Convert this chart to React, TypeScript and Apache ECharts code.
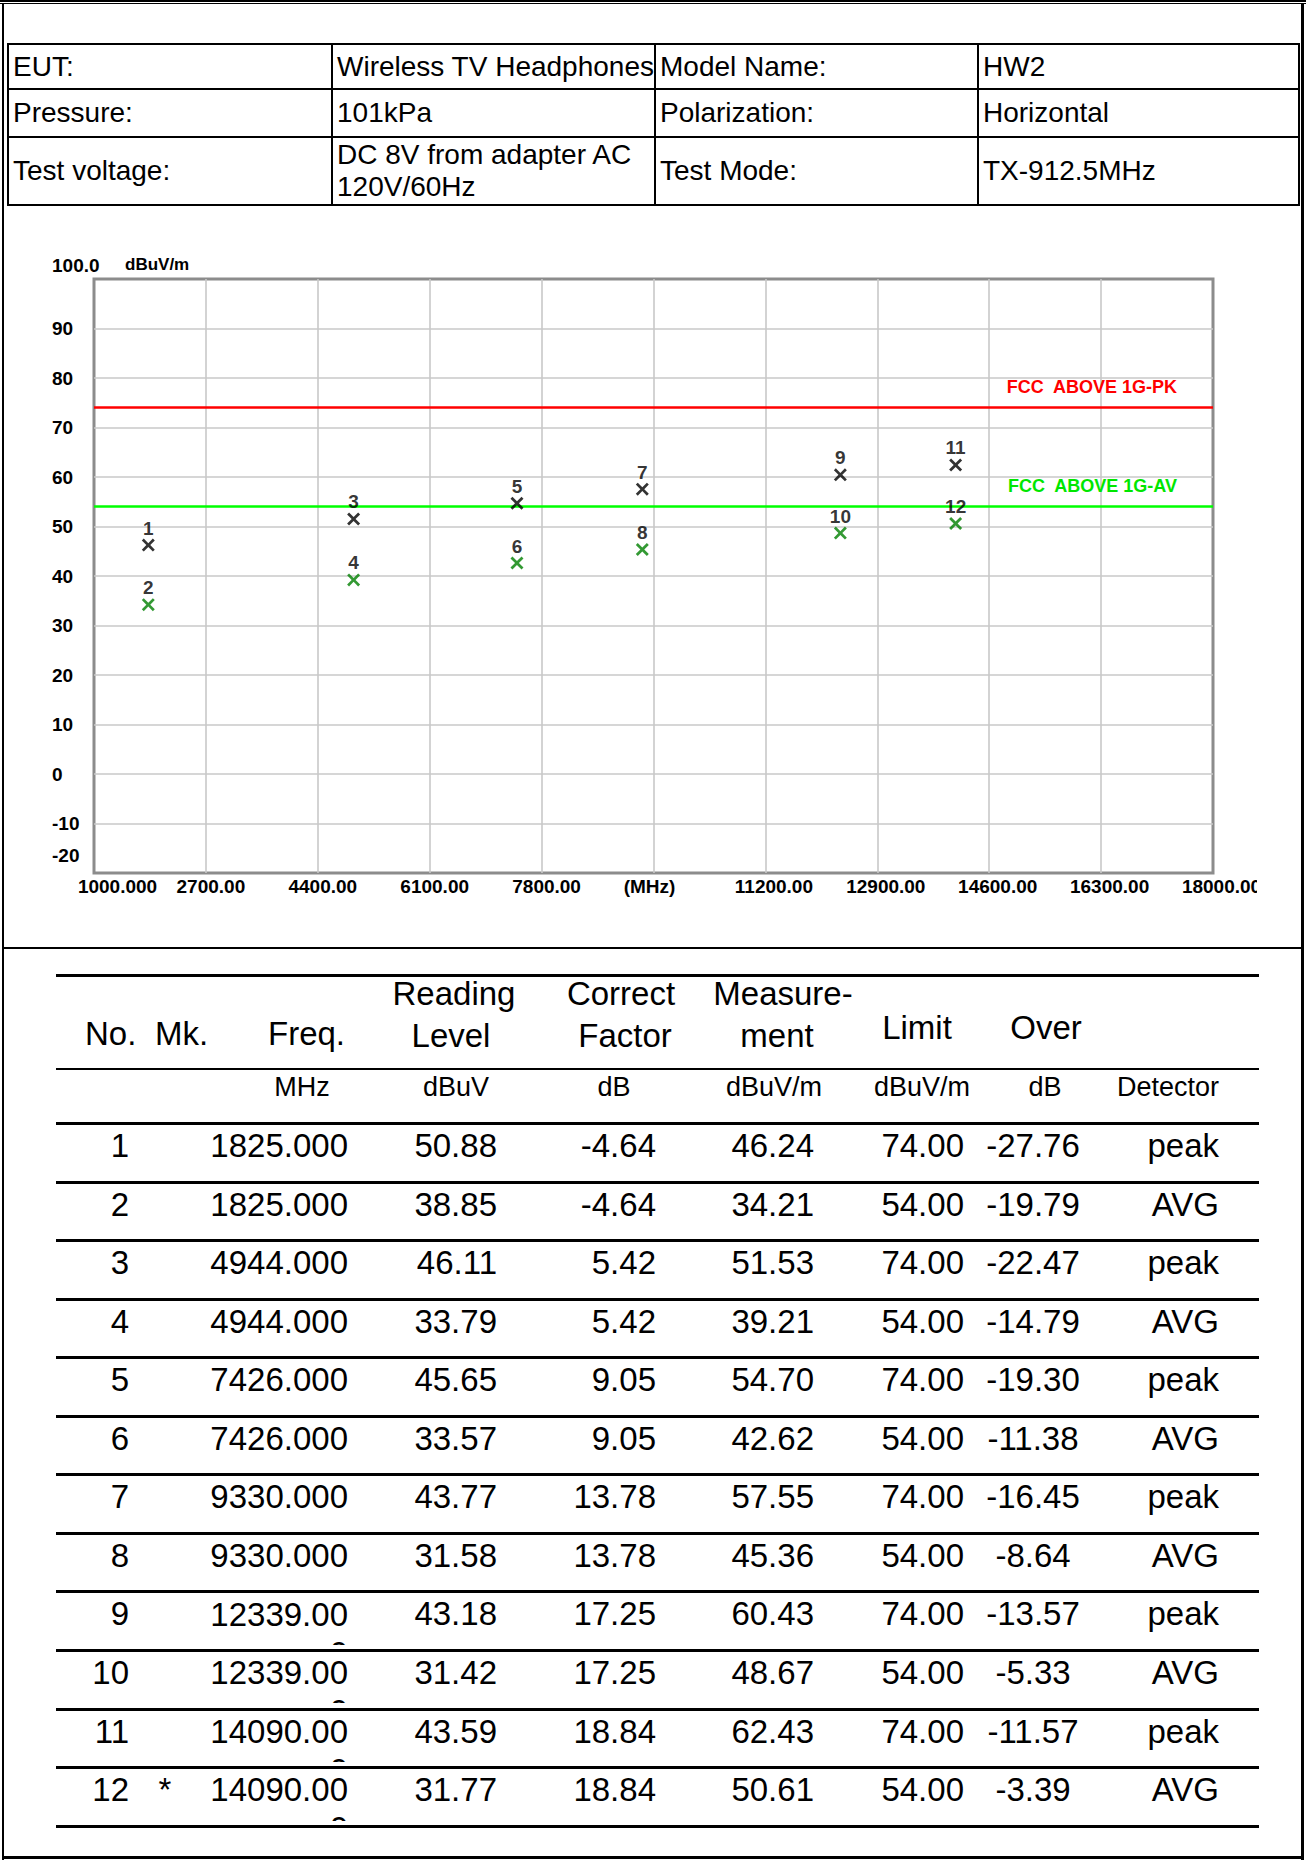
import React, { useEffect, useRef } from "react";
import * as echarts from "echarts";

// ---- measurement results (one entry per marker) ----
const markerNo = [1, 2, 3, 4, 5, 6, 7, 8, 9, 10, 11, 12];
const markFlag = ["", "", "", "", "", "", "", "", "", "", "", "*"];
const freqMHz = [1825, 1825, 4944, 4944, 7426, 7426, 9330, 9330, 12339, 12339, 14090, 14090];
const readingLevel = [50.88, 38.85, 46.11, 33.79, 45.65, 33.57, 43.77, 31.58, 43.18, 31.42, 43.59, 31.77];
const correctFactor = [-4.64, -4.64, 5.42, 5.42, 9.05, 9.05, 13.78, 13.78, 17.25, 17.25, 18.84, 18.84];
const measurement = [46.24, 34.21, 51.53, 39.21, 54.7, 42.62, 57.55, 45.36, 60.43, 48.67, 62.43, 50.61];
const limitLevel = [74, 54, 74, 54, 74, 54, 74, 54, 74, 54, 74, 54];
const overMargin = [-27.76, -19.79, -22.47, -14.79, -19.3, -11.38, -16.45, -8.64, -13.57, -5.33, -11.57, -3.39];
const detector = ["peak", "AVG", "peak", "AVG", "peak", "AVG", "peak", "AVG", "peak", "AVG", "peak", "AVG"];

// ---- limit lines ----
const limitPK = 74;
const limitAV = 54;
const limitPKName = "FCC  ABOVE 1G-PK";
const limitAVName = "FCC  ABOVE 1G-AV";

// ---- axes ----
const X_START = 1000;
const X_END = 18000;
const X_STEP = 1700;
const xTickLabels = ["1000.000", "2700.00", "4400.00", "6100.00", "7800.00", "(MHz)", "11200.00", "12900.00", "14600.00", "16300.00", "18000.00"];
const Y_MIN = -20;
const Y_MAX = 100;
const Y_STEP = 10;
const yTickLabels = ["-20", "-10", "0", "10", "20", "30", "40", "50", "60", "70", "80", "90", "100.0"];
const yUnit = "dBuV/m";

// ---- header information ----
const infoRows = [
  ["EUT:", "Wireless TV Headphones", "Model Name:", "HW2"],
  ["Pressure:", "101kPa", "Polarization:", "Horizontal"],
  ["Test voltage:", "DC 8V from adapter AC\n120V/60Hz", "Test Mode:", "TX-912.5MHz"],
];

const LS = "'Liberation Sans', Arial, Helvetica, sans-serif";

// cross-shaped marker
const X_MARK = "path://M0,1.5L1.5,0L5,3.5L8.5,0L10,1.5L6.5,5L10,8.5L8.5,10L5,6.5L1.5,10L0,8.5L3.5,5Z";

function Bar({ l, t, w, h }: { l: number; t: number; w: number; h: number }) {
  return <div style={{ position: "absolute", left: l, top: t, width: w, height: h, background: "#000" }} />;
}

function Txt({ x, base, size, align, children }: { x: number; base: number; size: number; align: "left" | "center" | "right"; children: React.ReactNode }) {
  const tx = align === "center" ? "translateX(-50%)" : align === "right" ? "translateX(-100%)" : "none";
  return (
    <div
      style={{
        position: "absolute",
        left: x,
        top: base - 0.8465 * size,
        fontFamily: LS,
        fontSize: size,
        lineHeight: `${size}px`,
        whiteSpace: "pre",
        transform: tx,
        color: "#000",
      }}
    >
      {children}
    </div>
  );
}

function Chart() {
  const ref = useRef<HTMLDivElement>(null);
  useEffect(() => {
    if (!ref.current) return;
    const chart = echarts.init(ref.current, undefined, { renderer: "svg" });
    const bold = { fontFamily: LS, fontWeight: "bold" as const, color: "#000" };
    const toPoint = (i: number) => [freqMHz[i] - X_START, measurement[i], markerNo[i]];
    const idx = markerNo.map((_, i) => i);
    const peakData = idx.filter((i) => detector[i] === "peak").map(toPoint);
    const avgData = idx.filter((i) => detector[i] === "AVG").map(toPoint);
    const markerLabel = {
      show: true,
      position: "top" as const,
      distance: 1,
      formatter: (p: any) => String(p.value[2]),
      ...bold,
      fontSize: 19,
    };
    chart.setOption({
      animation: false,
      grid: {
        left: 94,
        top: 73,
        width: 1119,
        height: 594,
        show: true,
        borderColor: "#8c8c8c",
        borderWidth: 3,
        outerBoundsMode: "none",
      },
      xAxis: {
        type: "value",
        min: 0,
        max: X_END - X_START,
        interval: X_STEP,
        axisLine: { show: false },
        axisTick: { show: false },
        splitLine: { show: true, showMinLine: false, showMaxLine: false, lineStyle: { color: "#c8c8c8", width: 1.6 } },
        axisLabel: {
          showMinLabel: true,
          showMaxLabel: true,
          margin: 4,
          ...bold,
          fontSize: 19,
          formatter: (v: number) => {
            const i = Math.round(v / X_STEP);
            const t = xTickLabels[i] ?? "";
            if (i === 0) return `{first|${t}}`;
            if (t === "(MHz)") return `{unit|${t}}`;
            if (i < 5) return `{lo|${t}}`;
            return `{hi|${t}}`;
          },
          rich: {
            first: { ...bold, fontSize: 19, padding: [0, 0, 0, 47] },
            lo: { ...bold, fontSize: 19, padding: [0, 0, 0, 10] },
            unit: { ...bold, fontSize: 19, padding: [0, 8, 0, 0] },
            hi: { ...bold, fontSize: 19, padding: [0, 0, 0, 17] },
          },
        },
      },
      yAxis: {
        type: "value",
        min: Y_MIN,
        max: Y_MAX,
        interval: Y_STEP,
        name: yUnit,
        nameLocation: "end",
        nameGap: 15,
        nameTextStyle: { ...bold, fontSize: 17, align: "left", verticalAlign: "middle", padding: [0, 0, 0, 31] },
        axisLine: { show: false },
        axisTick: { show: false },
        splitLine: { show: true, showMinLine: false, showMaxLine: false, lineStyle: { color: "#c8c8c8", width: 1.6 } },
        axisLabel: {
          showMinLabel: true,
          showMaxLabel: true,
          align: "left",
          margin: 42,
          ...bold,
          fontSize: 19,
          formatter: (v: number) => {
            const t = yTickLabels[Math.round((v - Y_MIN) / Y_STEP)] ?? "";
            if (v === Y_MAX) return `{top|${t}}`;
            if (v === Y_MIN) return `{low|${t}}`;
            return t;
          },
          rich: {
            top: { ...bold, fontSize: 19, padding: [0, 0, 28, 0] },
            low: { ...bold, fontSize: 19, padding: [0, 0, 36, 0] },
          },
        },
      },
      series: [
        {
          name: "peak",
          type: "scatter",
          data: peakData,
          symbol: X_MARK,
          symbolSize: 13,
          itemStyle: { color: "#000" },
          label: markerLabel,
          z: 5,
          markLine: {
            silent: true,
            symbol: ["none", "none"],
            z: 3,
            data: [
              {
                yAxis: limitPK,
                lineStyle: { color: "#ff0000", width: 2.5, type: "solid" },
                label: {
                  show: true,
                  position: "insideEndTop",
                  formatter: limitPKName,
                  distance: [36, 12],
                  ...bold,
                  color: "#ff0000",
                  fontSize: 18,
                },
              },
              {
                yAxis: limitAV,
                lineStyle: { color: "#00ff00", width: 2.5, type: "solid" },
                label: {
                  show: true,
                  position: "insideEndTop",
                  formatter: limitAVName,
                  distance: [36, 12],
                  ...bold,
                  color: "#00e600",
                  fontSize: 18,
                },
              },
            ],
          },
        },
        {
          name: "AVG",
          type: "scatter",
          data: avgData,
          symbol: X_MARK,
          symbolSize: 13,
          itemStyle: { color: "#008000" },
          label: markerLabel,
          z: 5,
        },
      ],
    });
    return () => chart.dispose();
  }, []);
  return <div ref={ref} style={{ position: "absolute", left: 0, top: 206, width: 1257, height: 740 }} />;
}

export default function App() {
  // header information table geometry
  const infoCols = [7, 331, 654, 977, 1298];
  const infoRowLines = [43, 88, 136, 204];

  // result table geometry
  const ruleTop = 1122;
  const pitch = 58.55;
  const TL = 56;
  const TW = 1259 - 56;

  const fmt = (v: number) => v.toFixed(2);

  return (
    <div style={{ position: "absolute", left: 0, top: 0, width: 1307, height: 1865, background: "#fff", overflow: "hidden" }}>
      <Chart />

      {/* page frame */}
      <Bar l={0} t={0} w={1306} h={1.8} />
      <Bar l={0} t={2.8} w={1306} h={1.6} />
      <Bar l={2} t={3} w={2} h={1857} />
      <Bar l={1301} t={3} w={3} h={1857} />
      <Bar l={2} t={1856} w={1302} h={2.6} />
      <Bar l={2} t={946.5} w={1302} h={2.8} />

      {/* information table */}
      {infoRowLines.map((y, i) => (
        <Bar key={`ir${i}`} l={7} t={y} w={1293} h={2} />
      ))}
      {infoCols.map((x, i) => (
        <Bar key={`ic${i}`} l={x} t={43} w={2} h={163} />
      ))}
      {infoRows.map((row, r) =>
        row.map((cell, c) => (
          <div
            key={`ic${r}-${c}`}
            style={{
              position: "absolute",
              left: infoCols[c] + 2,
              top: infoRowLines[r] + 2,
              width: infoCols[c + 1] - infoCols[c] - 2,
              height: infoRowLines[r + 1] - infoRowLines[r] - 2,
              display: "flex",
              alignItems: "center",
              paddingLeft: 4,
              boxSizing: "border-box",
              fontFamily: LS,
              fontSize: 28,
              lineHeight: "32px",
              whiteSpace: "pre",
              color: "#000",
              overflow: "hidden",
            }}
          >
            {cell}
          </div>
        ))
      )}

      {/* result table rules */}
      <Bar l={TL} t={974} w={TW} h={3} />
      <Bar l={TL} t={1067.8} w={TW} h={2.7} />
      {markerNo.concat([0]).map((_, k) => (
        <Bar key={`rule${k}`} l={TL} t={ruleTop + k * pitch} w={TW} h={3} />
      ))}

      {/* column headings */}
      <Txt x={85} base={1045} size={33} align="left">No.</Txt>
      <Txt x={155} base={1045} size={33} align="left">Mk.</Txt>
      <Txt x={268} base={1045} size={33} align="left">Freq.</Txt>
      <Txt x={454} base={1005} size={33} align="center">Reading</Txt>
      <Txt x={451} base={1047} size={33} align="center">Level</Txt>
      <Txt x={621} base={1005} size={33} align="center">Correct</Txt>
      <Txt x={625} base={1047} size={33} align="center">Factor</Txt>
      <Txt x={783} base={1005} size={33} align="center">Measure-</Txt>
      <Txt x={777} base={1047} size={33} align="center">ment</Txt>
      <Txt x={917} base={1039} size={33} align="center">Limit</Txt>
      <Txt x={1046} base={1039} size={33} align="center">Over</Txt>

      {/* units */}
      <Txt x={302} base={1097} size={27} align="center">MHz</Txt>
      <Txt x={456} base={1097} size={27} align="center">dBuV</Txt>
      <Txt x={614} base={1097} size={27} align="center">dB</Txt>
      <Txt x={774} base={1097} size={27} align="center">dBuV/m</Txt>
      <Txt x={922} base={1097} size={27} align="center">dBuV/m</Txt>
      <Txt x={1045} base={1097} size={27} align="center">dB</Txt>
      <Txt x={1219} base={1097} size={27} align="right">Detector</Txt>

      {/* result rows */}
      {markerNo.map((no, i) => {
        const rt = ruleTop + i * pitch;
        const base = rt + 35;
        const f = freqMHz[i].toFixed(3);
        const freqCell = f.length > 8 ? `${f.slice(0, 8)}\n${f.slice(8)}` : f;
        return (
          <React.Fragment key={`row${i}`}>
            <Txt x={129} base={base} size={33} align="right">{String(no)}</Txt>
            {markFlag[i] ? <Txt x={165} base={base} size={33} align="center">{markFlag[i]}</Txt> : null}
            <div
              style={{
                position: "absolute",
                left: 348 - 200,
                width: 200,
                top: base - 30.9,
                height: 50.4,
                overflow: "hidden",
                textAlign: "right",
                fontFamily: LS,
                fontSize: 33,
                lineHeight: "39px",
                whiteSpace: "pre",
                color: "#000",
              }}
            >
              {freqCell}
            </div>
            <Txt x={497} base={base} size={33} align="right">{fmt(readingLevel[i])}</Txt>
            <Txt x={656} base={base} size={33} align="right">{fmt(correctFactor[i])}</Txt>
            <Txt x={814} base={base} size={33} align="right">{fmt(measurement[i])}</Txt>
            <Txt x={964} base={base} size={33} align="right">{fmt(limitLevel[i])}</Txt>
            <Txt x={1033} base={base} size={33} align="center">{fmt(overMargin[i])}</Txt>
            <Txt x={1219} base={base} size={33} align="right">{detector[i]}</Txt>
          </React.Fragment>
        );
      })}
    </div>
  );
}
